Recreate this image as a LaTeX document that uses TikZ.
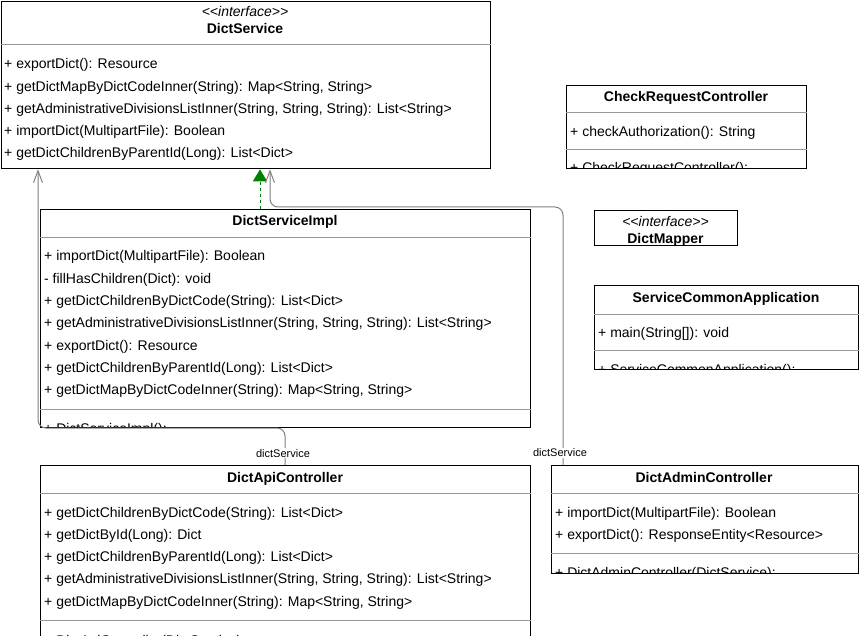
\documentclass[tikz,border=0pt]{standalone}
\usepackage{fontspec}
\setmainfont{Liberation Sans}
\usetikzlibrary{arrows.meta,calc}
\begin{document}
\begin{tikzpicture}[x=1pt,y=-1pt,
  box/.style={draw=black,line width=1.2pt,fill=white,anchor=north west,inner sep=0pt},
  div/.style={draw=black!40,line width=1pt},
  mt/.style={anchor=base west,inner sep=0pt,font=\fontsize{14}{16}\selectfont},
  ttl/.style={anchor=base,inner sep=0pt,font=\fontsize{14}{16}\selectfont\bfseries},
  stereo/.style={anchor=base,inner sep=0pt,font=\fontsize{14}{16}\selectfont\itshape},
  assoc/.style={draw=black!50,line width=1pt,rounded corners=8pt,-{Straight Barb[length=12pt,width=9pt]}},
  real/.style={draw={rgb,255:red,0;green,128;blue,0},line width=1pt,dash pattern=on 3pt off 3pt,
    -{Triangle[length=12pt,width=14pt,fill={rgb,255:red,0;green,128;blue,0}]}},
  lbl/.style={fill=white,inner sep=1pt,font=\fontsize{11}{12}\selectfont}]
\useasboundingbox (0,0) rectangle (859,636);

% ---------- DictService
\node[box,minimum width=489pt,minimum height=167.5pt] (ds) at (0.6,0.6) {};
\draw[div] (ds.west |- 0,45) -- (ds.east |- 0,45);
\node[stereo] (dsst) at (245,17) {<{}<interface>{}>};
\node[ttl] (dst) at (245,34) {DictService};
\node[mt] (dsm1) at (4,69) {+ exportDict(): Resource};
\node[mt] (dsm2) at (4,91.3) {+ getDictMapByDictCodeInner(String): Map<String, String>};
\node[mt] (dsm3) at (4,113.5) {+ getAdministrativeDivisionsListInner(String, String, String): List<String>};
\node[mt] (dsm4) at (4,135.8) {+ importDict(MultipartFile): Boolean};
\node[mt] (dsm5) at (4,158) {+ getDictChildrenByParentId(Long): List<Dict>};

% ---------- CheckRequestController
\node[box,minimum width=240pt,minimum height=83pt] (crc) at (566,85) {};
\draw[div] (crc.west |- 0,113) -- (crc.east |- 0,113);
\draw[div] (crc.west |- 0,150) -- (crc.east |- 0,150);
\node[ttl] (crct) at (686,102) {CheckRequestController};
\node[mt] (crcm1) at (570,136.5) {+ checkAuthorization(): String};
\begin{scope}
\clip ([shift={(0.6pt,0.6pt)}]crc.south west) rectangle ([shift={(-0.6pt,-0.6pt)}]crc.north east);
\node[mt] (crcc) at (570,173) {+ CheckRequestController():};
\end{scope}

% ---------- DictMapper
\node[box,minimum width=143pt,minimum height=35pt] (dm) at (594,210) {};
\node[stereo] (dmst) at (665.5,227) {<{}<interface>{}>};
\node[ttl] (dmt) at (665.5,244) {DictMapper};

% ---------- ServiceCommonApplication
\node[box,minimum width=263.5pt,minimum height=84pt] (sca) at (594,285) {};
\draw[div] (sca.west |- 0,314) -- (sca.east |- 0,314);
\draw[div] (sca.west |- 0,350) -- (sca.east |- 0,350);
\node[ttl] (scat) at (726,302) {ServiceCommonApplication};
\node[mt] (scam1) at (598,337) {+ main(String[]): void};
\begin{scope}
\clip ([shift={(0.6pt,0.6pt)}]sca.south west) rectangle ([shift={(-0.6pt,-0.6pt)}]sca.north east);
\node[mt] (scac) at (598,374) {+ ServiceCommonApplication():};
\end{scope}

% ---------- DictServiceImpl
\node[box,minimum width=490pt,minimum height=218pt] (dsi) at (40,209) {};
\draw[div] (dsi.west |- 0,237.5) -- (dsi.east |- 0,237.5);
\draw[div] (dsi.west |- 0,409) -- (dsi.east |- 0,409);
\node[ttl] (dsit) at (285,226) {DictServiceImpl};
\node[mt] (dsim1) at (44,261) {+ importDict(MultipartFile): Boolean};
\node[mt] (dsim2) at (44,283.3) {- fillHasChildren(Dict): void};
\node[mt] (dsim3) at (44,305.5) {+ getDictChildrenByDictCode(String): List<Dict>};
\node[mt] (dsim4) at (44,327.8) {+ getAdministrativeDivisionsListInner(String, String, String): List<String>};
\node[mt] (dsim5) at (44,350) {+ exportDict(): Resource};
\node[mt] (dsim6) at (44,372.3) {+ getDictChildrenByParentId(Long): List<Dict>};
\node[mt] (dsim7) at (44,394.5) {+ getDictMapByDictCodeInner(String): Map<String, String>};
\begin{scope}
\clip ([shift={(0.6pt,0.6pt)}]dsi.south west) rectangle ([shift={(-0.6pt,-0.6pt)}]dsi.north east);
\node[mt] (dsic) at (44,433) {+ DictServiceImpl():};
\end{scope}

% ---------- DictApiController
\node[box,minimum width=490pt,minimum height=175pt] (dapi) at (40,465) {};
\draw[div] (dapi.west |- 0,493) -- (dapi.east |- 0,493);
\draw[div] (dapi.west |- 0,620) -- (dapi.east |- 0,620);
\node[ttl] (dapit) at (285,482) {DictApiController};
\node[mt] (dapim1) at (44,517) {+ getDictChildrenByDictCode(String): List<Dict>};
\node[mt] (dapim2) at (44,539.3) {+ getDictById(Long): Dict};
\node[mt] (dapim3) at (44,561.5) {+ getDictChildrenByParentId(Long): List<Dict>};
\node[mt] (dapim4) at (44,583.8) {+ getAdministrativeDivisionsListInner(String, String, String): List<String>};
\node[mt] (dapim5) at (44,606) {+ getDictMapByDictCodeInner(String): Map<String, String>};
\begin{scope}
\clip (40,621) rectangle (530,636);
\node[mt] (dapic) at (44,645) {+ DictApiController(DictService):};
\end{scope}

% ---------- DictAdminController
\node[box,minimum width=306.5pt,minimum height=108pt] (dadm) at (551,465) {};
\draw[div] (dadm.west |- 0,493) -- (dadm.east |- 0,493);
\draw[div] (dadm.west |- 0,553) -- (dadm.east |- 0,553);
\node[ttl] (dadmt) at (704,482) {DictAdminController};
\node[mt] (dadmm1) at (555,517) {+ importDict(MultipartFile): Boolean};
\node[mt] (dadmm2) at (555,539.3) {+ exportDict(): ResponseEntity<Resource>};
\begin{scope}
\clip ([shift={(0.6pt,0.6pt)}]dadm.south west) rectangle ([shift={(-0.6pt,-0.6pt)}]dadm.north east);
\node[mt] (dadmc) at (555,577) {+ DictAdminController(DictService):};
\end{scope}

% ---------- connectors
\draw[real] ([xshift=220pt]dsi.north west) -- ([xshift=259.4pt]ds.south west);
\draw[assoc] ([xshift=12pt]dadm.north west)
  -- node[lbl,pos=0.047,xshift=-3pt] (l2) {dictService} ++(0,-258) -| ([xshift=269.4pt]ds.south west);
\draw[assoc] ([xshift=245pt]dapi.north west)
  -- node[lbl,pos=0.32,xshift=-2pt] (l1) {dictService} ++(0,-37) -| ([xshift=37.4pt]ds.south west);
\end{tikzpicture}
\end{document}
